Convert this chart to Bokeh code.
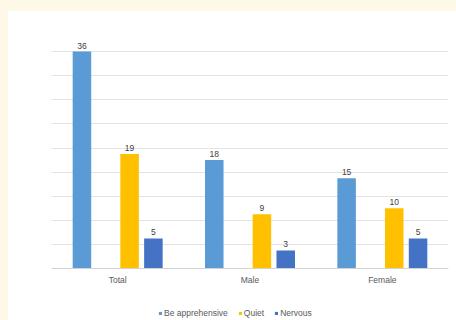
from bokeh.plotting import figure
from bokeh.models import (ColumnDataSource, FactorRange, Range1d, Legend, LegendItem,
                          LabelSet, Spacer, SingleIntervalTicker, Span)
from bokeh.core.properties import value
from bokeh.transform import dodge
from bokeh.layouts import column, row
from bokeh.embed import file_html
from bokeh.resources import INLINE

# Survey responses per group
groups = ["Total", "Male", "Female"]
series = ["Be apprehensive", "Quiet", "Nervous"]
apprehensive = [36, 18, 15]
quiet = [19, 9, 10]
nervous = [5, 3, 5]

colors = ["#5B9BD5", "#FFC000", "#4472C4"]
# slot positions inside each group (the second slot stays empty)
offsets = [-0.27, 0.09, 0.27]

FONT = "Liberation Sans"
FS = "8.5px"

Y_MAX = 40
PLOT_H = 310
TOP = 17
BASE_PX = 241                     # pixel height of the 0..Y_MAX band
px = BASE_PX / Y_MAX              # pixels per unit
below = PLOT_H - TOP - BASE_PX    # room under the baseline for labels + legend

source = ColumnDataSource(dict(groups=groups, apprehensive=apprehensive,
                               quiet=quiet, nervous=nervous))

p = figure(x_range=FactorRange(*groups, range_padding=0),
           y_range=Range1d(-below / px, Y_MAX),
           width=449, height=PLOT_H, output_backend="svg", toolbar_location=None,
           min_border_left=44, min_border_right=8, min_border_top=TOP, min_border_bottom=0)
p.background_fill_color = "white"
p.border_fill_color = "white"
p.outline_line_color = None

items = []
for name, field, color, off in zip(series, ["apprehensive", "quiet", "nervous"], colors, offsets):
    r = p.vbar(x=dodge("groups", off, range=p.x_range), top=field, width=0.14,
               source=source, color=color, line_color=None)
    items.append(LegendItem(label=name, renderers=[r]))
    labels = LabelSet(x=dodge("groups", off, range=p.x_range), y=field, text=field,
                      source=source, text_align="center", y_offset=3,
                      text_font=value(FONT), text_font_size=FS, text_color="#404040")
    p.add_layout(labels)

p.xaxis.visible = False
p.yaxis.visible = False
p.ygrid.ticker = SingleIntervalTicker(interval=4)
p.ygrid.bounds = (0, Y_MAX)
p.ygrid.grid_line_color = "#e3e3e3"
p.xgrid.grid_line_color = None
p.add_layout(Span(location=0, dimension="width", line_color="#d2d2d2", line_width=1))

# category names under the baseline
cat_src = ColumnDataSource(dict(groups=groups, y=[-11 / px] * len(groups)))
p.text(x="groups", y="y", text="groups", source=cat_src, text_align="center",
       text_baseline="middle", text_font=value(FONT), text_font_size=FS,
       text_color="#595959")

# legend along the bottom edge, anchored by its bottom-left corner
legend = Legend(items=items, orientation="horizontal", location=(107, 2),
                label_text_font=FONT, label_text_font_size=FS,
                label_text_color="#595959", glyph_width=4, glyph_height=4,
                label_height=10, spacing=10, label_standoff=2, padding=0, margin=0,
                border_line_color=None, background_fill_alpha=0)
p.add_layout(legend)

page = column(Spacer(height=10), row(Spacer(width=7), p),
              styles={"background-color": "#fdf9e6"})

open("out.html", "w").write(file_html(page, INLINE))
